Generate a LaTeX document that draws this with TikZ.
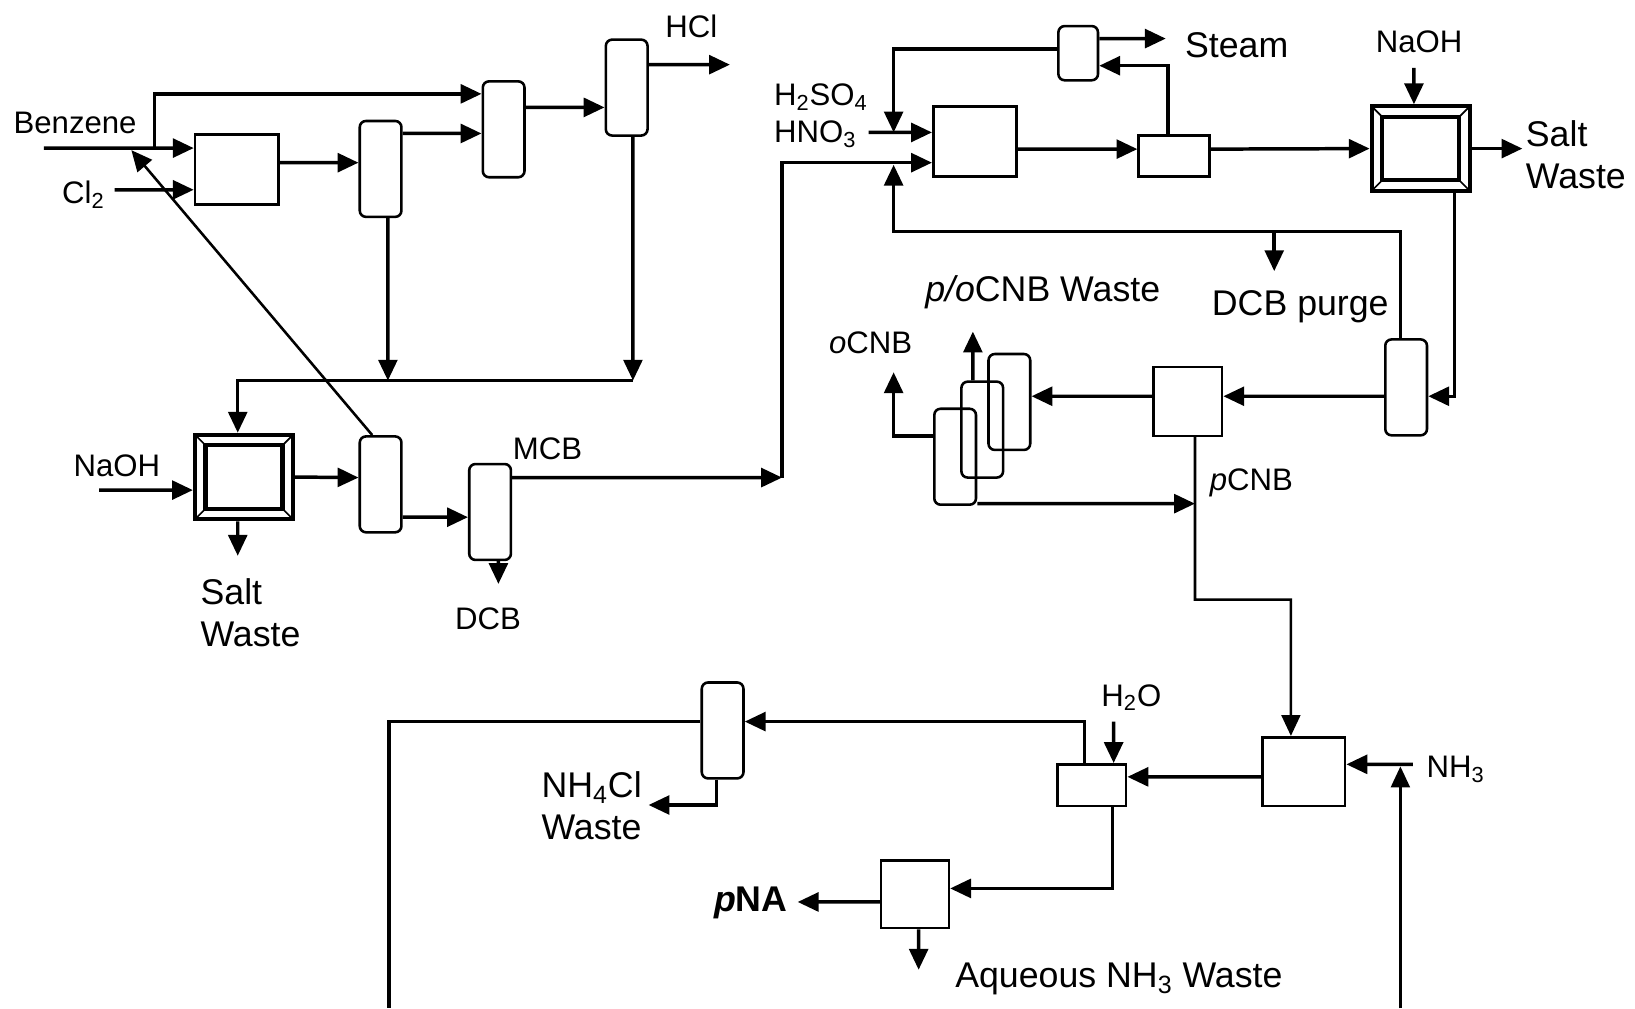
\documentclass[tikz,border=0pt]{standalone}
\usepackage{fontspec}
\setmainfont{Liberation Sans}
\usetikzlibrary{arrows.meta}

\begin{document}
\begin{tikzpicture}[x=0.02cm, y=-0.02cm,
    vessel/.style={draw, line width=1.4pt, inner sep=0pt, minimum width=1.6cm, minimum height=1.34cm},
    column/.style={draw, line width=1.4pt, rounded corners=0.12cm, inner sep=0pt, minimum width=0.8cm, minimum height=1.84cm},
    neut/.style={draw, line width=2.3pt, inner sep=0pt, minimum width=1.88cm, minimum height=1.62cm,
        path picture={
            \draw[line width=2.3pt] ([shift={(0.2cm,0.2cm)}]path picture bounding box.south west) rectangle ([shift={(-0.2cm,-0.2cm)}]path picture bounding box.north east);
            \draw[line width=0.9pt] (path picture bounding box.south west) -- ++(0.2cm,0.2cm)
                (path picture bounding box.south east) -- ++(-0.2cm,0.2cm)
                (path picture bounding box.north west) -- ++(0.2cm,-0.2cm)
                (path picture bounding box.north east) -- ++(-0.2cm,-0.2cm);}},
    flow/.style={line width=1.9pt, -{Triangle[length=0.4cm, width=0.36cm]}},
    thinflow/.style={line width=1.4pt, -{Triangle[length=0.4cm, width=0.36cm]}},
    pipe/.style={line width=1.9pt},
    lbl/.style={font=\fontsize{17}{20}\selectfont, inner sep=0pt},
    biglbl/.style={font=\fontsize{19.5}{23}\selectfont, inner sep=0pt, align=left}]
    \useasboundingbox (0,0) rectangle (1568,967);

    % 氯化工段
    \node[vessel] (R1) at (227,162.5) {};
    \node[column] (C1) at (365,162) {};
    \node[column] (C2) at (483,124) {};
    \node[column] (C3) at (601,84) {};
    \node[neut] (N1) at (234,457.5) {};
    \node[column] (C4) at (365,464.5) {};
    \node[column] (C5) at (470,491) {};

    % 硝化工段
    \node[column, minimum width=0.76cm, minimum height=1.04cm] (C6) at (1034,51) {};
    \node[vessel] (R2) at (935,135.5) {};
    \node[vessel, minimum width=1.36cm, minimum height=0.78cm] (S1) at (1126,149.5) {};
    \node[neut] (N2) at (1362.5,142.5) {};
    \node[column] (C7) at (1348.5,371.5) {};
    \node[vessel, minimum width=1.32cm, minimum height=1.32cm] (S2) at (1139,385) {};
    \node[column] (stA) at (968,385.5) {};
    \node[column] (stB) at (942,412) {};
    \node[column] (stC) at (916,438) {};

    % 氨化工段
    \node[vessel, minimum width=1.58cm, minimum height=1.32cm] (R3) at (1250.5,740) {};
    \node[vessel, minimum width=1.32cm, minimum height=0.8cm] (S3) at (1047,753) {};
    \node[column] (C8) at (693,700.5) {};
    \node[vessel, minimum width=1.3cm, minimum height=1.3cm] (S4) at (877.5,857.5) {};

    % 物流端点
    \coordinate (benzin) at (42,142);
    \coordinate (bsplit) at (148,142);
    \coordinate (clin) at (110,182);
    \coordinate (hclout) at (700,62);
    \coordinate (j1) at (372,365);
    \coordinate (j2) at (607,365);
    \coordinate (naohA) at (95,470);
    \coordinate (benzret) at (126,144);
    \coordinate (saltA) at (228,533);
    \coordinate (dcbout) at (478,560);
    \coordinate (mcbend) at (750,458);
    \coordinate (acidin) at (833,127);
    \coordinate (acidjoin) at (857,127);
    \coordinate (steamout) at (1118,37);
    \coordinate (naohB) at (1356,65);
    \coordinate (saltB) at (1460,142.5);
    \coordinate (recyc) at (857,222);
    \coordinate (mcbjoin) at (857,158);
    \coordinate (purge) at (1222,222);
    \coordinate (purgeout) at (1222,260);
    \coordinate (pocnb) at (933,318);
    \coordinate (ocnb) at (857,357);
    \coordinate (pcnb) at (1146,483);
    \coordinate (bend) at (1238,575);
    \coordinate (nh3in) at (1355,733);
    \coordinate (nh3rec) at (1343,967);
    \coordinate (nh3join) at (1343,735);
    \coordinate (h2oin) at (1068,692);
    \coordinate (recL) at (373,967);
    \coordinate (nh4out) at (622,772);
    \coordinate (pnaout) at (765,865);
    \coordinate (aqout) at (881,930);

    % 氯化物流
    \draw[flow] (benzin) -- ([yshift=0.41cm]R1.west);
    \draw[flow] (bsplit) |- ([yshift=0.68cm]C2.west);
    \draw[flow] (clin) -- ([yshift=-0.39cm]R1.west);
    \draw[flow] ([yshift=0.13cm]R1.east) -- ([yshift=0.12cm]C1.west);
    \draw[flow] ([yshift=0.68cm]C1.east) -- ([yshift=-0.08cm]C2.west);
    \draw[flow] ([yshift=0.42cm]C2.east) -- ([yshift=-0.38cm]C3.west);
    \draw[flow] ([yshift=0.44cm]C3.east) -- (hclout);
    \draw[flow] ([xshift=0.14cm]C1.south) -- (j1);
    \draw[flow] ([xshift=0.12cm]C3.south) -- (j2);
    \draw[flow] (j2) -| ([xshift=-0.12cm]N1.north);
    \draw[flow] (naohA) -- ([yshift=-0.25cm]N1.west);
    \draw[flow] (N1.east) -- ([yshift=0.13cm]C4.west);
    \draw[thinflow] ([xshift=-0.16cm]C4.north) -- (benzret);
    \draw[flow] ([xshift=-0.12cm]N1.south) -- (saltA);
    \draw[flow] ([yshift=-0.63cm]C4.east) -- ([yshift=-0.1cm]C5.west);
    \draw[flow] ([xshift=0.16cm]C5.south) -- (dcbout);
    \draw[flow] ([yshift=0.66cm]C5.east) -- (mcbend);

    % 硝化物流
    \draw[flow] (mcbend) |- ([yshift=-0.41cm]R2.west);
    \draw[flow] (acidin) -- ([yshift=0.17cm]R2.west);
    \draw[flow] ([yshift=0.28cm]C6.east) -- (steamout);
    \draw[flow] ([yshift=0.08cm]C6.west) -| (acidjoin);
    \draw[flow] ([xshift=-0.12cm]S1.north) |- ([yshift=-0.24cm]C6.east);
    \draw[flow] ([yshift=-0.15cm]R2.east) -- ([yshift=0.13cm]S1.west);
    \draw[flow] ([yshift=0.13cm]S1.east) -- (N2.west);
    \draw[flow] (naohB) -- ([xshift=-0.13cm]N2.north);
    \draw[flow] (N2.east) -- (saltB);
    \draw[flow] ([xshift=0.65cm]N2.south) |- ([yshift=-0.17cm]C7.east);
    \draw[flow] ([xshift=-0.11cm]C7.north) |- (recyc) -- (mcbjoin);
    \draw[flow] (purge) -- (purgeout);
    \draw[flow] ([yshift=-0.17cm]C7.west) -- ([yshift=0.1cm]S2.east);
    \draw[flow] ([yshift=0.1cm]S2.west) -- ([yshift=0.11cm]stA.east);
    \draw[flow] ([xshift=-0.18cm]stB.north) -- (pocnb);
    \draw[flow] ([yshift=0.4cm]stC.west) -| (ocnb);
    \draw[flow] ([yshift=-0.9cm]stC.east) -- (pcnb);
    \draw[thinflow] ([xshift=0.14cm]S2.south) |- (bend) -- ([xshift=-0.25cm]R3.north);

    % 氨化物流
    \draw[flow] (nh3in) -- ([yshift=0.14cm]R3.east);
    \draw[thinflow] (nh3rec) -- (nh3join);
    \draw[flow] ([yshift=-0.1cm]R3.west) -- ([yshift=0.16cm]S3.east);
    \draw[flow] (h2oin) -- ([xshift=0.42cm]S3.north);
    \draw[flow] ([xshift=-0.14cm]S3.north) |- ([yshift=0.17cm]C8.east);
    \draw[pipe] ([yshift=0.17cm]C8.west) -| (recL);
    \draw[flow] ([xshift=-0.12cm]C8.south) |- (nh4out);
    \draw[flow] ([xshift=0.4cm]S3.south) |- ([yshift=0.11cm]S4.east);
    \draw[flow] ([yshift=-0.15cm]S4.west) -- (pnaout);
    \draw[flow] ([xshift=0.07cm]S4.south) -- (aqout);

    % 标注
    \node[lbl] (benzlbl) at (72,118) {Benzene};
    \node[lbl] (cllbl) at (80,187) {Cl\textsubscript{2}};
    \node[lbl] (hcllbl) at (663,25) {HCl};
    \node[lbl] (naohlblA) at (112,447) {NaOH};
    \node[biglbl, anchor=west] (saltlblA) at (192,588) {Salt\\Waste};
    \node[lbl] (dcblbl) at (468,593) {DCB};
    \node[lbl] (mcblbl) at (525,430) {MCB};
    \node[lbl, align=left, anchor=west] (acidlbl) at (742,111) {H\textsubscript{2}SO\textsubscript{4}\\HNO\textsubscript{3}};
    \node[biglbl] (steamlbl) at (1186,43) {Steam};
    \node[lbl] (naohlblB) at (1361,40) {NaOH};
    \node[biglbl, anchor=west] (saltlblB) at (1463,148) {Salt\\Waste};
    \node[biglbl] (purgelbl) at (1247,294) {DCB purge};
    \node[biglbl] (polbl) at (1000,280) {\textit{p/o}CNB Waste};
    \node[lbl] (ocnblbl) at (835,329) {\textit{o}CNB};
    \node[lbl] (pcnblbl) at (1200,463) {\textit{p}CNB};
    \node[lbl] (h2olbl) at (1085,669) {H\textsubscript{2}O};
    \node[lbl] (nh3lbl) at (1396,738) {NH\textsubscript{3}};
    \node[biglbl, anchor=west] (nh4lbl) at (519,773) {NH\textsubscript{4}Cl\\Waste};
    \node[biglbl, font=\fontsize{19.5}{23}\selectfont\bfseries] (pnalbl) at (720,866) {\textit{p}NA};
    \node[biglbl] (aqlbl) at (1073,939) {Aqueous NH\textsubscript{3} Waste};
\end{tikzpicture}
\end{document}
